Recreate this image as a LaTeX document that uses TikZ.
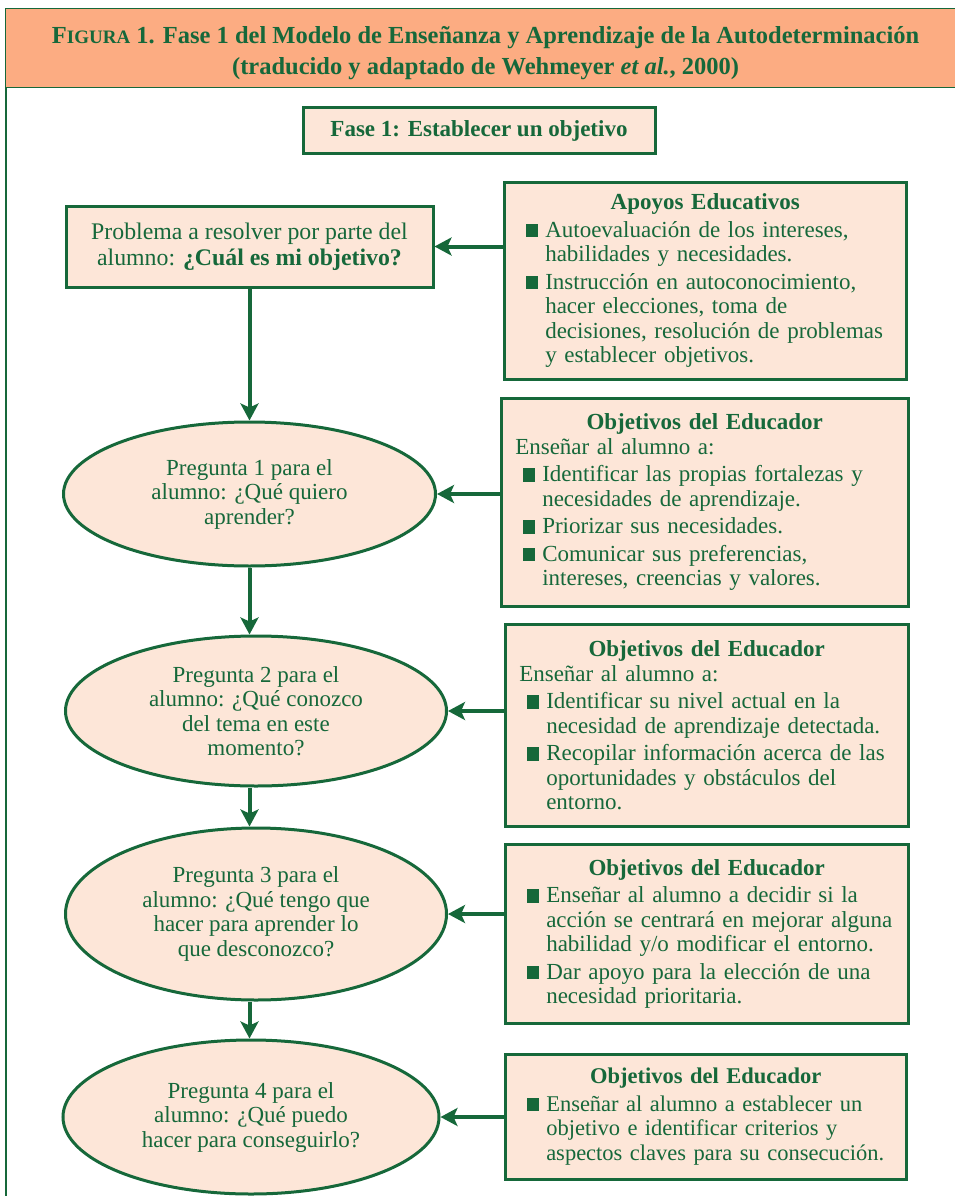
\documentclass[tikz,border=0pt]{standalone}
\usepackage{fontspec}
\setmainfont{Liberation Serif}
\usepackage{tikz}
\usetikzlibrary{arrows.meta,shapes.geometric}

\definecolor{verde}{RGB}{22,104,58}
\definecolor{salmon}{RGB}{252,172,130}
\definecolor{rosado}{RGB}{253,230,216}

\newcommand{\vineta}{\par\addvspace{3pt}\noindent\hangindent=27pt\hangafter=1\hspace*{8pt}\makebox[19pt][l]{\rule{12pt}{13.5pt}}\ignorespaces}
\newcommand{\titulo}[1]{{\centering\bfseries #1\par}}

\begin{document}
\begin{tikzpicture}[x=1pt,y=-1pt,>={Stealth[length=17pt,width=18pt,inset=4pt]},
		every node/.style={text=verde,font=\fontsize{23}{24.5}\selectfont},
		caja/.style={draw=verde,fill=rosado,line width=2.5pt,rectangle,inner xsep=14pt,inner ysep=0pt,anchor=north west},
		pregunta/.style={draw=verde,fill=rosado,line width=3pt,ellipse,inner sep=0pt,align=center},
		flecha/.style={->,draw=verde,line width=4pt}]
		\useasboundingbox (0,0) rectangle (955,1196);

		\node[draw=verde,fill=salmon,line width=1.2pt,anchor=north west,minimum width=960,minimum height=79,align=center,font=\bfseries\fontsize{24.5}{31}\selectfont] (cabecera) at (5,8)
			{\rule{0pt}{28pt}F{\fontsize{19}{19}\selectfont IGURA} 1. Fase 1 del Modelo de Enseñanza y Aprendizaje de la Autodeterminación\\(traducido y adaptado de Wehmeyer \textit{et al.}, 2000)};
		\coordinate (pie) at (6,1196);
		\draw[verde,line width=1.5pt] (cabecera.south west -| pie) -- (pie);

		\node[caja,anchor=center,line width=3pt,minimum width=352,minimum height=45,font=\bfseries\fontsize{23}{24.5}\selectfont] (fase) at (479,130.5) {Fase 1: Establecer un objetivo};
		\node[caja,anchor=center,line width=3pt,minimum width=367,minimum height=81,align=center,font=\fontsize{23.8}{26}\selectfont] (p0) at (249.5,246.5) {Problema a resolver por parte del\\alumno: \textbf{¿Cuál es mi objetivo?}};

		% preguntas
		\node[pregunta,minimum width=372,minimum height=144] (p1) at (249.5,494)  {Pregunta 1 para el\\alumno: ¿Qué quiero\\aprender?};
		\node[pregunta,minimum width=381,minimum height=150] (p2) at (256,711)    {Pregunta 2 para el\\alumno: ¿Qué conozco\\del tema en este\\momento?};
		\node[pregunta,minimum width=381,minimum height=172] (p3) at (256,914)    {Pregunta 3 para el\\alumno: ¿Qué tengo que\\hacer para aprender lo\\que desconozco?};
		\node[pregunta,minimum width=376,minimum height=154] (p4) at (251,1117)   {Pregunta 4 para el\\alumno: ¿Qué puedo\\hacer para conseguirlo?};

		% apoyos y objetivos
		\node[caja,text width=374,minimum height=197] (a0) at (503,181) {\raggedright\titulo{Apoyos Educativos}
			\vineta Autoevaluación de los intereses,\newline habilidades y necesidades.
			\vineta Instrucción en autoconocimiento,\newline hacer elecciones, toma de\newline decisiones, resolución de problemas\newline y establecer objetivos.\par};
		\node[caja,text width=379,minimum height=208] (o1) at (500,397) {\raggedright\titulo{Objetivos del Educador}
			\noindent Enseñar al alumno a:
			\vineta Identificar las propias fortalezas y\newline necesidades de aprendizaje.
			\vineta Priorizar sus necesidades.
			\vineta Comunicar sus preferencias,\newline intereses, creencias y valores.\par};
		\node[caja,text width=375,minimum height=202] (o2) at (504,623) {\raggedright\titulo{Objetivos del Educador}
			\noindent Enseñar al alumno a:
			\vineta Identificar su nivel actual en la\newline necesidad de aprendizaje detectada.
			\vineta Recopilar información acerca de las\newline oportunidades y obstáculos del\newline entorno.\par};
		\node[caja,text width=375,minimum height=179] (o3) at (504,843) {\raggedright\titulo{Objetivos del Educador}
			\vineta Enseñar al alumno a decidir si la\newline acción se centrará en mejorar alguna\newline habilidad y/o modificar el entorno.
			\vineta Dar apoyo para la elección de una\newline necesidad prioritaria.\par};
		\node[caja,text width=373,minimum height=125,font=\fontsize{22.5}{24.5}\selectfont] (o4) at (504,1053) {\raggedright\titulo{Objetivos del Educador}
			\vineta Enseñar al alumno a establecer un\newline objetivo e identificar criterios y\newline aspectos claves para su consecución.\par};

		% flechas
		\path (a0.west |- p0) edge[flecha] (p0);
		\path (p0) edge[flecha] (p1);
		\path (o1.west |- p1) edge[flecha] (p1);
		\path (p1) edge[flecha] (p1 |- p2.north);
		\path (o2.west |- p2) edge[flecha] (p2);
		\path (p2.south -| p1) edge[flecha] (p3.north -| p1);
		\path (o3.west |- p3) edge[flecha] (p3);
		\path (p3.south -| p1) edge[flecha] (p4.north -| p1);
		\path (o4.west |- p4) edge[flecha] (p4);
	\end{tikzpicture}
\end{document}
